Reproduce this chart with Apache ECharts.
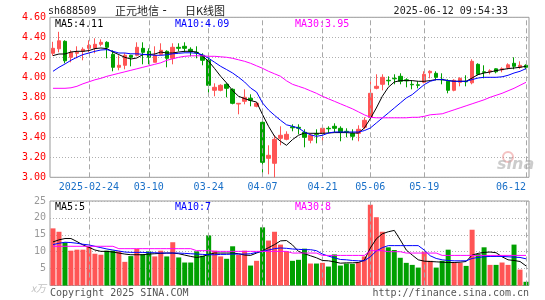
<!DOCTYPE html>
<html><head><meta charset="utf-8">
<script src="https://cdn.jsdelivr.net/npm/echarts/dist/echarts.min.js"></script>
<style>html,body{margin:0;padding:0;background:#fff}#c{width:545px;height:300px}</style>
</head><body><div id="c"></div>
<script>
const dates = [
'2025-02-14','2025-02-17','2025-02-18','2025-02-19','2025-02-20','2025-02-21','2025-02-24','2025-02-25','2025-02-26','2025-02-27',
'2025-02-28','2025-03-03','2025-03-04','2025-03-05','2025-03-06','2025-03-07','2025-03-10','2025-03-11','2025-03-12','2025-03-13',
'2025-03-14','2025-03-17','2025-03-18','2025-03-19','2025-03-20','2025-03-21','2025-03-24','2025-03-25','2025-03-26','2025-03-27',
'2025-03-28','2025-03-31','2025-04-01','2025-04-02','2025-04-03','2025-04-07','2025-04-08','2025-04-09','2025-04-10','2025-04-11',
'2025-04-14','2025-04-15','2025-04-16','2025-04-17','2025-04-18','2025-04-21','2025-04-22','2025-04-23','2025-04-24','2025-04-25',
'2025-04-28','2025-04-29','2025-04-30','2025-05-06','2025-05-07','2025-05-08','2025-05-09','2025-05-12','2025-05-13','2025-05-14',
'2025-05-15','2025-05-16','2025-05-19','2025-05-20','2025-05-21','2025-05-22','2025-05-23','2025-05-26','2025-05-27','2025-05-28',
'2025-05-29','2025-05-30','2025-06-03','2025-06-04','2025-06-05','2025-06-06','2025-06-09','2025-06-10','2025-06-11','2025-06-12'];

const openP = [
4.24,4.285,4.36,4.20,4.24,4.26,4.29,4.29,4.33,4.35,
4.23,4.10,4.12,4.22,4.22,4.29,4.26,4.15,4.23,4.26,
4.19,4.30,4.31,4.28,4.25,4.22,4.17,3.87,3.87,3.93,
3.88,3.733,3.76,3.79,3.71,3.55,3.19,3.14,3.39,3.38,
3.505,3.50,3.45,3.37,3.435,3.44,3.49,3.51,3.49,3.46,
3.44,3.44,3.50,3.60,3.89,3.93,3.97,3.99,4.01,3.975,
3.93,3.925,3.95,4.045,4.04,3.98,3.96,3.87,3.95,3.96,
3.945,4.13,4.055,4.055,4.085,4.075,4.095,4.14,4.10,4.12];
const closeP = [
4.29,4.365,4.165,4.25,4.25,4.28,4.32,4.33,4.35,4.30,
4.10,4.12,4.22,4.20,4.30,4.25,4.20,4.22,4.27,4.19,
4.30,4.29,4.29,4.26,4.245,4.17,3.92,3.90,3.92,3.89,
3.74,3.74,3.80,3.77,3.74,3.15,3.22,3.38,3.42,3.43,
3.495,3.49,3.40,3.42,3.43,3.49,3.485,3.49,3.45,3.455,
3.41,3.48,3.57,3.84,3.91,4.00,3.965,3.985,3.96,3.965,
3.925,3.92,4.03,4.06,4.00,3.975,3.87,3.97,3.99,3.955,
4.16,4.03,4.05,4.065,4.055,4.085,4.125,4.11,4.12,4.10];
const lowP = [
4.215,4.25,4.14,4.15,4.19,4.17,4.25,4.24,4.31,4.19,
4.06,4.07,4.08,4.11,4.21,4.13,4.13,4.15,4.22,4.10,
4.13,4.26,4.25,4.21,4.19,4.12,3.82,3.81,3.86,3.80,
3.73,3.63,3.73,3.71,3.70,3.03,3.03,3.00,3.32,3.37,
3.46,3.43,3.30,3.34,3.34,3.36,3.44,3.45,3.36,3.40,
3.37,3.36,3.48,3.59,3.88,3.87,3.92,3.93,3.93,3.90,
3.88,3.89,3.94,3.99,3.97,3.93,3.84,3.86,3.91,3.91,
3.93,4.02,3.99,4.03,4.04,4.05,4.08,4.08,4.085,4.08];
const highP = [
4.355,4.455,4.37,4.27,4.31,4.30,4.37,4.39,4.38,4.36,
4.27,4.22,4.24,4.225,4.35,4.35,4.29,4.31,4.34,4.27,
4.34,4.34,4.35,4.30,4.31,4.24,4.20,3.94,3.93,3.94,
3.89,3.74,3.88,3.83,3.75,3.56,3.32,3.42,3.51,3.46,
3.53,3.53,3.48,3.44,3.48,3.50,3.51,3.54,3.51,3.49,
3.48,3.52,3.60,3.96,4.03,4.03,4.01,4.03,4.04,3.99,
3.97,3.96,4.06,4.07,4.06,4.04,3.98,3.98,4.00,4.02,
4.18,4.14,4.12,4.08,4.09,4.10,4.14,4.20,4.16,4.13];

const ma5 = [
4.217,4.233,4.233,4.253,4.26,4.26,4.267,4.287,4.293,4.287,
4.253,4.227,4.20,4.183,4.193,4.227,4.227,4.233,4.253,4.243,
4.243,4.253,4.26,4.26,4.253,4.21,4.16,4.087,4.01,3.943,
3.867,3.81,3.787,3.767,3.753,3.627,3.51,3.41,3.36,3.32,
3.377,3.42,3.443,3.44,3.44,3.44,3.443,3.447,3.447,3.447,
3.443,3.443,3.493,3.587,3.693,3.81,3.90,3.953,3.967,3.967,
3.967,3.96,3.96,3.967,3.977,3.977,3.967,3.96,3.96,3.96,
3.993,4.027,4.043,4.053,4.067,4.077,4.087,4.093,4.10,4.11];
const ma10 = [
4.06,4.10,4.133,4.17,4.20,4.227,4.243,4.26,4.273,4.277,
4.26,4.243,4.243,4.235,4.235,4.23,4.225,4.22,4.22,4.225,
4.235,4.24,4.245,4.245,4.24,4.225,4.19,4.15,4.11,4.077,
4.043,4.00,3.953,3.893,3.853,3.743,3.673,3.62,3.57,3.525,
3.51,3.493,3.453,3.425,3.41,3.42,3.443,3.453,3.453,3.453,
3.453,3.453,3.467,3.493,3.543,3.593,3.643,3.693,3.743,3.793,
3.827,3.877,3.927,3.96,3.977,3.977,3.967,3.96,3.96,3.96,
3.977,3.993,4.00,4.00,4.00,4.005,4.02,4.043,4.06,4.087];
const ma30 = [
3.89,3.89,3.89,3.895,3.91,3.935,3.955,3.975,3.99,4.01,
4.025,4.04,4.055,4.07,4.085,4.10,4.115,4.13,4.145,4.17,
4.185,4.20,4.21,4.215,4.215,4.215,4.21,4.21,4.205,4.20,
4.19,4.175,4.16,4.14,4.115,4.09,4.06,4.035,4.01,3.965,
3.93,3.91,3.89,3.865,3.84,3.81,3.785,3.76,3.735,3.71,
3.685,3.655,3.625,3.60,3.595,3.595,3.595,3.595,3.595,3.595,
3.60,3.60,3.61,3.625,3.63,3.635,3.655,3.675,3.695,3.715,
3.735,3.755,3.775,3.80,3.82,3.84,3.865,3.89,3.92,3.95];

const volume = [
16.9,15.9,12.7,10.3,10.6,10.6,11.4,9.4,9.1,10.3,
10.3,10.1,7.0,8.7,10.8,9.3,10.1,8.6,10.3,8.6,
12.8,8.3,6.8,6.8,10.1,8.8,14.8,10.3,8.6,7.9,
11.6,9.1,10.3,5.9,7.3,17.2,13.3,15.9,12.1,10.1,
7.3,7.6,10.9,6.5,6.5,6.7,5.6,9.2,5.9,6.5,
6.4,6.9,8.6,23.9,20.2,15.9,11.3,10.5,8.2,6.7,
6.1,5.3,10.0,7.3,5.3,7.3,10.6,6.7,6.7,5.8,
16.5,9.3,11.3,6.1,6.1,6.8,6.1,12.1,4.7,1.1];
const volMa5 = [
12.9,13.5,13.9,13.9,13.0,12.0,11.3,10.5,10.1,10.1,
9.9,9.6,9.3,9.1,9.1,9.1,9.3,9.4,9.5,9.6,
9.6,9.4,9.0,8.6,8.3,8.6,9.2,9.6,9.6,9.6,
9.6,9.4,9.0,8.9,9.6,10.3,11.2,12.1,13.2,13.3,
12.0,10.1,9.4,8.8,8.2,7.4,7.3,7.0,6.6,6.7,
6.7,6.8,7.5,11.1,13.8,15.3,15.9,16.3,13.5,10.5,
9.0,7.6,7.2,7.1,7.0,6.9,6.8,6.8,6.9,7.1,
9.0,9.5,9.8,9.9,9.7,8.5,7.6,7.4,7.1,5.8];
const volMa10 = [
12.1,12.5,12.8,12.7,12.5,12.2,12.0,11.6,11.2,10.8,
10.5,10.2,9.9,9.8,9.8,9.8,9.7,9.7,9.6,9.6,
9.6,9.6,9.5,9.4,9.3,9.2,9.1,9.1,9.2,9.2,
9.3,9.3,9.3,9.4,9.8,10.1,10.5,10.9,11.1,11.0,
10.8,10.7,10.6,10.6,10.3,9.3,8.7,8.2,7.7,7.6,
7.4,7.3,7.3,8.5,10.2,11.2,11.8,11.8,11.8,11.8,
11.8,11.8,10.5,8.8,8.0,7.6,7.4,7.3,7.3,7.3,
8.0,8.3,8.5,8.6,8.6,8.6,8.5,8.4,8.3,7.9];
const volMa30 = [
11.6,11.6,11.6,11.6,11.6,11.6,11.6,11.6,11.6,11.6,
11.6,10.9,10.9,10.9,10.9,10.9,10.9,10.9,10.9,10.9,
10.9,10.9,10.9,10.9,10.3,10.3,10.3,10.1,10.1,10.1,
10.1,10.1,10.1,10.1,10.1,10.1,10.1,10.1,10.1,10.1,
9.6,9.6,9.6,9.6,9.6,8.9,8.9,8.9,8.9,8.9,
8.9,8.9,8.9,10.3,10.3,10.3,10.0,10.0,10.0,9.6,
9.6,9.6,9.6,9.6,9.6,8.9,8.9,8.9,8.9,8.9,
8.9,8.9,8.9,8.9,8.9,8.9,8.9,8.9,8.9,8.9];

const tickDates = ['2025-02-24','2025-03-10','2025-03-24','2025-04-07','2025-04-21','2025-05-06','2025-05-19','2025-06-12'];
const tickLabels = ['2025-02-24','03-10','03-24','04-07','04-21','05-06','05-19','06-12'];

const UP = '#ff5555', DOWN = '#00a000';
const MONO = '"DejaVu Sans Mono", "Liberation Mono", monospace';
const CJK = '"Noto Sans CJK SC", sans-serif';
const last = a => a[a.length - 1];

const candleData = dates.map((d, i) => [openP[i], closeP[i], lowP[i], highP[i]]);
const volData = volume.map((v, i) => ({ value: v, itemStyle: { color: closeP[i] >= openP[i] ? UP : DOWN } }));
const vLines = () => ({
  symbol: 'none', silent: true, animation: false, label: { show: false },
  lineStyle: { color: '#a8a8a8', type: [5, 3], width: 1 },
  emphasis: { disabled: true },
  data: tickDates.map(d => ({ xAxis: d }))
});
const lineS = (name, data, color, xi, yi) => ({
  type: 'line', name, data, xAxisIndex: xi, yAxisIndex: yi, symbol: 'none', smooth: false,
  lineStyle: { color, width: 1 }, itemStyle: { color }, silent: true, z: 5
});
const txt = (text, x, y, fill, font, align) => ({
  type: 'text', x, y, silent: true, z: 100,
  style: { text, fill, font, textAlign: align || 'left', textVerticalAlign: 'middle', align: align || 'left', verticalAlign: 'middle' }
});

const chart = echarts.init(document.getElementById('c'), null, { renderer: 'canvas' });
chart.setOption({
  animation: false,
  backgroundColor: '#fff',
  grid: [
    { left: 50, right: 16, top: 17.3, height: 160, show: true, borderColor: '#999', borderWidth: 1 },
    { left: 50, right: 16, top: 201, height: 84.5, show: true, borderColor: '#999', borderWidth: 1 }
  ],
  xAxis: [
    { type: 'category', gridIndex: 0, data: dates, boundaryGap: true,
      axisLine: { show: false }, axisTick: { show: false }, splitLine: { show: false },
      axisLabel: { interval: (i, v) => tickDates.includes(v), formatter: v => tickLabels[tickDates.indexOf(v)],
        color: '#1a70c8', fontFamily: MONO, fontSize: 10, margin: 5, alignMaxLabel: 'right' } },
    { type: 'category', gridIndex: 1, data: dates, boundaryGap: true,
      axisLine: { show: false }, axisTick: { show: false }, axisLabel: { show: false }, splitLine: { show: false } }
  ],
  yAxis: [
    { type: 'value', gridIndex: 0, min: 3, max: 4.6, interval: 0.2,
      axisLine: { show: false }, axisTick: { show: false },
      splitLine: { lineStyle: { color: '#b0b0b0', type: [1, 2], width: 1 } },
      axisLabel: { formatter: v => v.toFixed(2), color: '#ff0000', fontFamily: MONO, fontSize: 10, margin: 4 } },
    { type: 'value', gridIndex: 1, min: 0, max: 25, interval: 5,
      axisLine: { show: false }, axisTick: { show: false },
      splitLine: { lineStyle: { color: '#b0b0b0', type: [1, 2], width: 1 } },
      axisLabel: { formatter: v => v === 0 ? '{u|x万}' : String(v), color: '#999', fontFamily: MONO, fontSize: 10, margin: 4,
        rich: { u: { color: '#c0c0c0', fontStyle: 'italic', fontSize: 10, fontFamily: CJK, padding: [6, 0, 0, 0] } } } }
  ],
  series: [
    { type: 'candlestick', name: 'K', data: candleData, xAxisIndex: 0, yAxisIndex: 0, barWidth: 4,
      itemStyle: { color: UP, color0: DOWN, borderColor: UP, borderColor0: DOWN, borderWidth: 1 },
      markLine: vLines(), silent: true },
    lineS('MA5', ma5, '#000000', 0, 0),
    lineS('MA10', ma10, '#0000ff', 0, 0),
    lineS('MA30', ma30, '#ff00ff', 0, 0),
    { type: 'bar', name: 'VOL', data: volData, xAxisIndex: 1, yAxisIndex: 1, barWidth: 5, silent: true,
      markLine: vLines() },
    lineS('VMA5', volMa5, '#000000', 1, 1),
    lineS('VMA10', volMa10, '#0000ff', 1, 1),
    lineS('VMA30', volMa30, '#ff00ff', 1, 1)
  ],
  graphic: [
    txt('sh688509', 48, 11, '#222', '10px ' + MONO),
    txt('正元地信', 115, 10.5, '#222', '11px ' + CJK),
    txt('-', 161, 10.5, '#222', '12px ' + MONO),
    txt('日K线图', 185, 10.5, '#222', '11px ' + CJK),
    txt('2025-06-12 09:54:33', 508, 11, '#222', '10px ' + MONO, 'right'),
    txt('MA5:' + last(ma5).toFixed(2), 55, 24, '#000', '10px ' + MONO),
    txt('MA10:' + last(ma10).toFixed(2), 175, 24, '#0000ff', '10px ' + MONO),
    txt('MA30:' + last(ma30).toFixed(2), 295, 24, '#ff00ff', '10px ' + MONO),
    txt('MA5:' + Math.floor(last(volMa5)), 55, 207.5, '#000', '10px ' + MONO),
    txt('MA10:' + Math.floor(last(volMa10)), 175, 207.5, '#0000ff', '10px ' + MONO),
    txt('MA30:' + Math.floor(last(volMa30)), 295, 207.5, '#ff00ff', '10px ' + MONO),
    txt('Copyright 2025 SINA.COM', 50, 293, '#555', '10px ' + MONO),
    txt('http://finance.sina.com.cn', 529, 293, '#555', '10px ' + MONO, 'right'),
    { type: 'circle', shape: { cx: 508, cy: 157, r: 5 }, style: { fill: 'none', stroke: 'rgba(230,120,120,0.45)', lineWidth: 2 }, silent: true, z: 1 },
    txt('sina', 497, 165, 'rgba(170,170,170,0.6)', 'italic bold 16px "DejaVu Sans", sans-serif')
  ]
});
</script>
</body></html>
